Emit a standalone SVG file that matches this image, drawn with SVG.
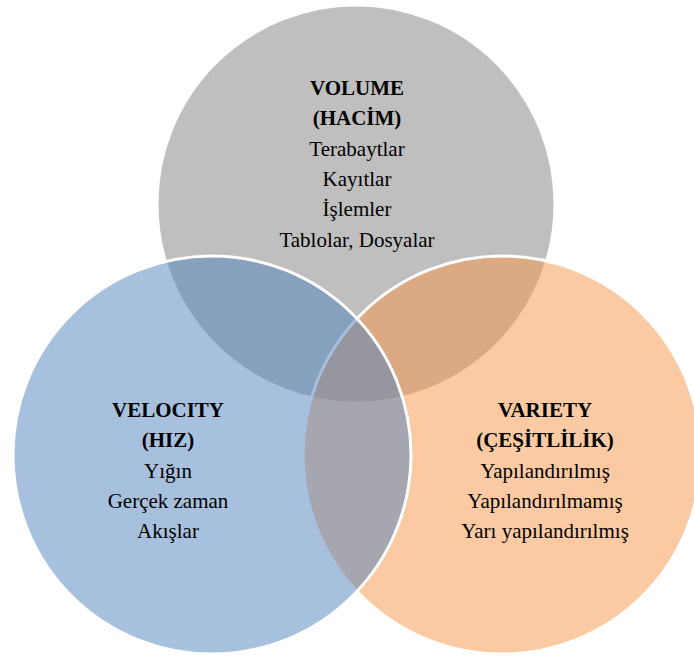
<svg xmlns="http://www.w3.org/2000/svg" width="694" height="659" viewBox="0 0 694 659">
<style>
.c{stroke:#FFFFFF;stroke-width:3}
.t{font-family:"Liberation Serif","Times New Roman",serif;font-size:21px;fill:#000000;text-anchor:middle}
.b{font-weight:bold}
</style>
<rect width="694" height="659" fill="#FFFFFF"/>
<g id="volume">
<circle class="c" cx="356" cy="204" r="199" fill="#BFBFBF"/>
</g>
<g id="variety">
<circle class="c" cx="502" cy="455" r="199" fill="#F79646" fill-opacity="0.5"/>
</g>
<g id="velocity">
<circle class="c" cx="212" cy="455" r="199" fill="#4F81BD" fill-opacity="0.5"/>
</g>
<g id="volume-text">
<text class="t b" x="357" y="95">VOLUME</text>
<text class="t b" x="357" y="125">(HACİM)</text>
<text class="t" x="357" y="155.5">Terabaytlar</text>
<text class="t" x="357" y="186">Kayıtlar</text>
<text class="t" x="357" y="216">İşlemler</text>
<text class="t" x="357" y="246.5">Tablolar, Dosyalar</text>
</g>
<g id="velocity-text">
<text class="t b" x="168" y="416.5">VELOCITY</text>
<text class="t b" x="168" y="447">(HIZ)</text>
<text class="t" x="168" y="477.5">Yığın</text>
<text class="t" x="168" y="508">Gerçek zaman</text>
<text class="t" x="168" y="538">Akışlar</text>
</g>
<g id="variety-text">
<text class="t b" x="545" y="416.5">VARIETY</text>
<text class="t b" x="545" y="447">(ÇEŞİTLİLİK)</text>
<text class="t" x="545" y="477.5">Yapılandırılmış</text>
<text class="t" x="545" y="508">Yapılandırılmamış</text>
<text class="t" x="545" y="538">Yarı yapılandırılmış</text>
</g>
<g id="connectors"></g>
</svg>
